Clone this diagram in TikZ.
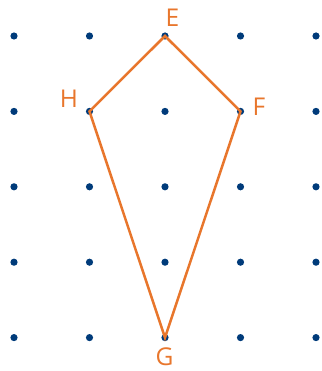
\documentclass[tikz,border=0pt]{standalone}
\usepackage{fontspec}
\setmainfont{Open Sans}
\definecolor{dotblue}{HTML}{003B7A}
\definecolor{kiteorange}{HTML}{E8762C}
\begin{document}
\begin{tikzpicture}[x=1pt,y=-1pt,
  griddot/.style={circle,fill=dotblue,inner sep=0pt,minimum size=7.2pt},
  kite/.style={draw=kiteorange,line width=2.5pt,line join=miter},
  vlabel/.style={text=kiteorange,font=\fontsize{24.5}{29}\selectfont,inner sep=0pt}]
\useasboundingbox (0,0) rectangle (321,371);
\foreach \i in {0,...,4}{
  \foreach \j in {0,...,4}{
    \node[griddot] (d\i\j) at ({14+75.5*\i},{36+75.4*\j}) {};
  }
}
\coordinate (E) at (d20.center);
\coordinate (F) at (d31.center);
\coordinate (G) at (d24.center);
\coordinate (H) at (d11.center);
\draw[kite] (E) -- (F) -- (G) -- (H) -- cycle;
\node[vlabel] (lE) at (172.5,17.5) {E};
\node[vlabel] (lF) at (259,107) {F};
\node[vlabel] (lG) at (164.5,356.5) {G};
\node[vlabel] (lH) at (69,99) {H};
\end{tikzpicture}
\end{document}
